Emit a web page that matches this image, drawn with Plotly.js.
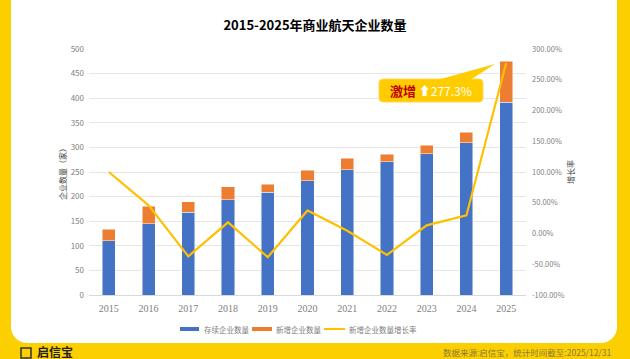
<!DOCTYPE html>
<html>
<head>
<meta charset="utf-8">
<script src="https://cdn.plot.ly/plotly-3.0.1.min.js"></script>
<style>
  html, body { margin:0; padding:0; width:630px; height:359px; overflow:hidden; background:#FCD000; }
  #card { position:absolute; left:11px; top:-20px; width:606px; height:363px; background:#ffffff; border-radius:16px; }
  #chart { position:absolute; left:0; top:0; width:630px; height:359px; }
</style>
</head>
<body>
<div id="card"></div>
<div id="chart"></div>
<script>
const years = ['2015','2016','2017','2018','2019','2020','2021','2022','2023','2024','2025'];
const existing = [110,145,168,194,209,232,255,271,287,309,392];
const newly = [24,35,22,26,16,22,23,15,17,22,83];
const growth = [100,45.8,-37.1,18.2,-38.5,37.5,4.5,-34.8,13.3,29.4,277.3];
const leftTicks = [0,50,100,150,200,250,300,350,400,450,500];
const rightTicks = [-100,-50,0,50,100,150,200,250,300];
const rightTickText = ['-100.00%','-50.00%','0.00%','50.00%','100.00%','150.00%','200.00%','250.00%','300.00%'];
const seriesNames = ['存续企业数量','新增企业数量','新增企业数量增长率'];
const seriesColors = ['#4472C4','#ED7D31','#FFC000'];

const L=89, T=49, W=437, H=246;
const px = x => (x-L)/W;
const py = y => (T+H-y)/H;

function roundRect(x0,y0,x1,y1,r){
  return 'M'+px(x0+r)+','+py(y0)+
    ' L'+px(x1-r)+','+py(y0)+
    ' Q'+px(x1)+','+py(y0)+' '+px(x1)+','+py(y0+r)+
    ' L'+px(x1)+','+py(y1-r)+
    ' Q'+px(x1)+','+py(y1)+' '+px(x1-r)+','+py(y1)+
    ' L'+px(x0+r)+','+py(y1)+
    ' Q'+px(x0)+','+py(y1)+' '+px(x0)+','+py(y1-r)+
    ' L'+px(x0)+','+py(y0+r)+
    ' Q'+px(x0)+','+py(y0)+' '+px(x0+r)+','+py(y0)+' Z';
}
const tail = 'M'+px(437)+','+py(80)+' L'+px(495)+','+py(64)+' L'+px(470)+','+py(80)+' Z';

const fontCN = '"Noto Sans CJK SC", "Noto Sans", "DejaVu Sans", sans-serif';

const traces = [
  { type:'bar', name:seriesNames[0], x:years, y:existing, showlegend:false,
    marker:{color:seriesColors[0], line:{color:'rgba(255,255,255,0.6)', width:0.8}} },
  { type:'bar', name:seriesNames[1], x:years, y:newly, showlegend:false,
    marker:{color:seriesColors[1], line:{color:'rgba(255,255,255,0.6)', width:0.8}} },
  { type:'scatter', mode:'lines', name:seriesNames[2], x:years, y:growth, yaxis:'y2', showlegend:false,
    line:{color:seriesColors[2], width:2.2} }
];

// custom legend (Excel-style wide swatches)
const legY = 329;
const legItems = [
  {sx0:180, sx1:199, tx:202, kind:'rect'},
  {sx0:252, sx1:272, tx:274, kind:'rect'},
  {sx0:324, sx1:345, tx:347, kind:'line'}
];
const legShapes = legItems.map((it,i) => it.kind==='rect'
  ? {type:'rect', xref:'paper', yref:'paper', x0:px(it.sx0), x1:px(it.sx1), y0:py(legY+2), y1:py(legY-2), fillcolor:seriesColors[i], line:{width:0}}
  : {type:'line', xref:'paper', yref:'paper', x0:px(it.sx0), x1:px(it.sx1), y0:py(legY), y1:py(legY), line:{color:seriesColors[i], width:2}});
const legAnns = legItems.map((it,i) => ({xref:'paper', yref:'paper', x:px(it.tx), y:py(legY), xanchor:'left', yanchor:'middle',
  showarrow:false, text:seriesNames[i], font:{family:fontCN, size:7.5, color:'#7f7f7f'}}));

const layout = {
  width:630, height:359,
  margin:{l:L, r:630-L-W, t:T, b:359-T-H},
  paper_bgcolor:'rgba(0,0,0,0)', plot_bgcolor:'rgba(0,0,0,0)',
  font:{family:fontCN, color:'#7f7f7f', size:8},
  barmode:'stack', bargap:0.67,
  showlegend:false,
  title:{text:'<b>2015-2025年商业航天企业数量</b>', x:0.5, xanchor:'center', y:1-25/359, yanchor:'middle',
         font:{family:fontCN, size:13, color:'#000000'}},
  xaxis:{type:'category', range:[-0.5,10.5], showgrid:false, showline:true, linecolor:'#d9d9d9', linewidth:1,
         ticks:'', tickfont:{family:'"Liberation Serif", "DejaVu Serif", serif', size:10, color:'#808080'},
         ticklabelstandoff:4, fixedrange:true},
  yaxis:{range:[0,500], tickvals:leftTicks, showgrid:true, gridcolor:'#e6e6e6', gridwidth:1, zeroline:false,
         ticks:'', tickfont:{size:8, color:'#7f7f7f'}, ticklabelstandoff:4,
         title:{text:'企业数量（家）', font:{size:8, color:'#404040'}, standoff:2}},
  yaxis2:{overlaying:'y', side:'right', range:[-100,300], tickvals:rightTicks, ticktext:rightTickText,
          showgrid:false, zeroline:false, ticks:'', tickfont:{size:7.5, color:'#7f7f7f'}, ticklabelstandoff:5,
          title:{text:'增长率', font:{size:8, color:'#404040'}, standoff:4}},
  shapes:[
    {type:'path', xref:'paper', yref:'paper', path:roundRect(379,79,483,102,4), fillcolor:'#FFCC00', line:{color:'#FFD84D', width:1}, layer:'above'},
    {type:'path', xref:'paper', yref:'paper', path:tail, fillcolor:'#FFCC00', line:{width:0}, layer:'above'},
    {type:'rect', xref:'paper', yref:'paper', x0:px(21), x1:px(31), y0:py(358), y1:py(348), line:{color:'#333333', width:1.5}, fillcolor:'rgba(0,0,0,0)'}
  ].concat(legShapes),
  annotations:[
    {xref:'paper', yref:'paper', x:px(431), y:py(90.5), xanchor:'center', yanchor:'middle', showarrow:false,
     text:'<b><span style="color:#C00000;font-size:13px">激增</span></b> <span style="color:#ffffff">⬆</span><span style="color:#ffffff">277.3%</span>',
     font:{family:fontCN, size:12, color:'#ffffff'}},
    {xref:'paper', yref:'paper', x:px(613), y:py(351.5), xanchor:'right', yanchor:'middle', showarrow:false,
     text:'数据来源:启信宝，统计时间截至:2025/12/31', font:{family:fontCN, size:8.5, color:'#8a7a3a'}},
    {xref:'paper', yref:'paper', x:px(35), y:py(351.5), xanchor:'left', yanchor:'middle', showarrow:false,
     text:'<b>启信宝</b>', font:{family:fontCN, size:12, color:'#222222'}}
  ].concat(legAnns)
};

Plotly.newPlot('chart', traces, layout, {staticPlot:true, displayModeBar:false});
</script>
</body>
</html>
